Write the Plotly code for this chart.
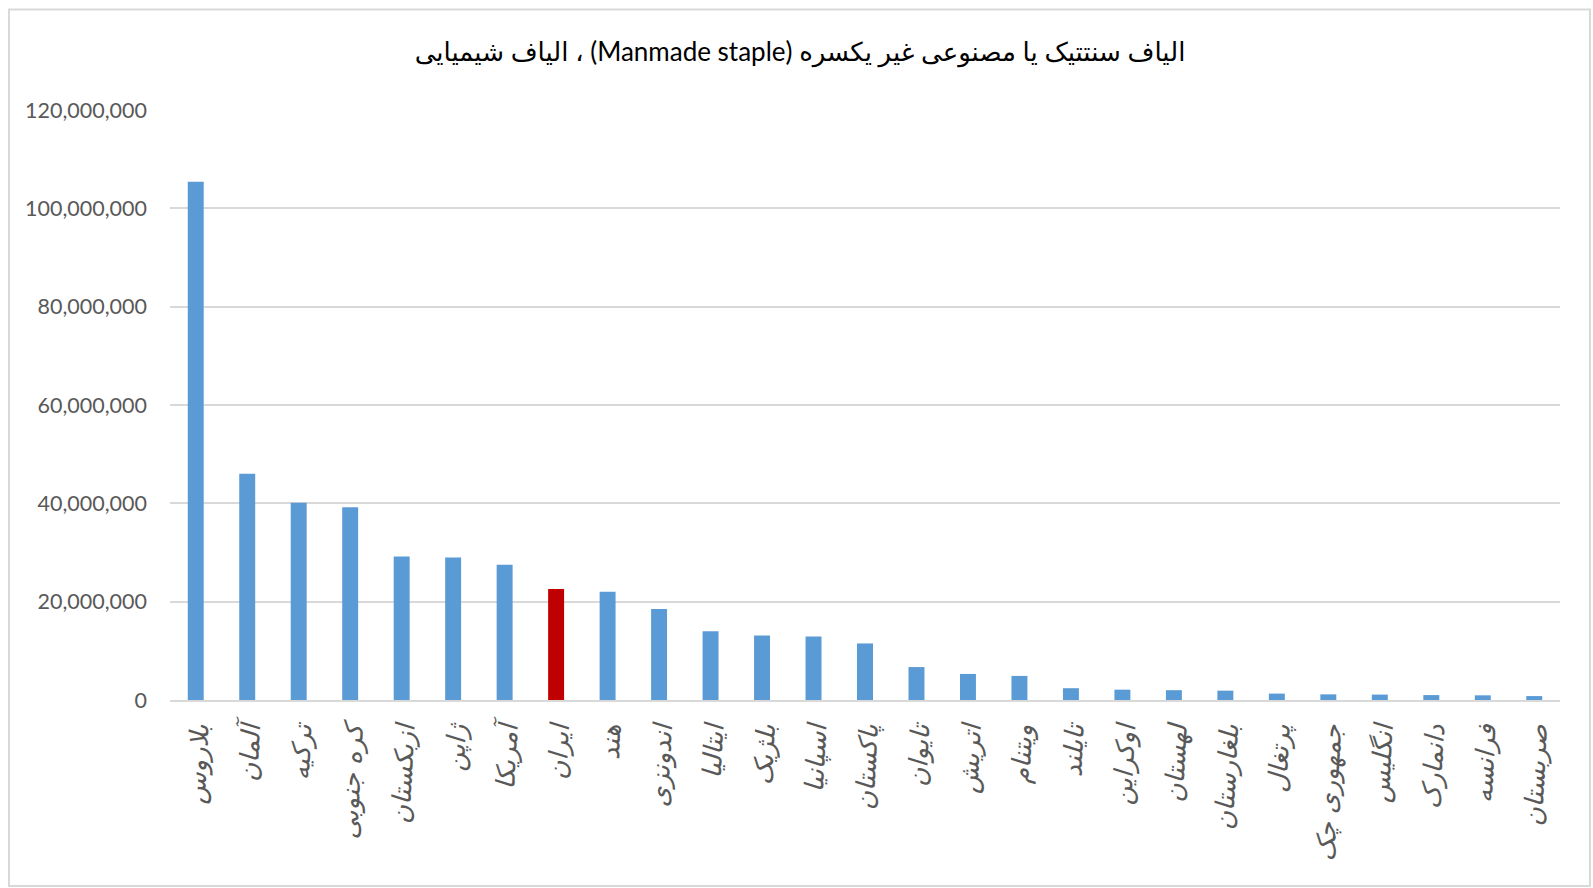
import plotly.graph_objects as go

categories = ["بلاروس", "آلمان", "ترکیه", "کره جنوبی", "ازبکستان", "ژاپن", "آمریکا", "ایران", "هند",
              "اندونزی", "ایتالیا", "بلژیک", "اسپانیا", "پاکستان", "تایوان", "اتریش", "ویتنام", "تایلند",
              "اوکراین", "لهستان", "بلغارستان", "پرتغال", "جمهوری چک", "انگلیس", "دانمارک", "فرانسه", "صربستان"]
values = [105400000, 46000000, 40100000, 39200000, 29200000, 29000000, 27500000, 22600000, 22000000,
          18500000, 14000000, 13100000, 12900000, 11500000, 6700000, 5300000, 4900000, 2400000,
          2100000, 2000000, 1900000, 1300000, 1150000, 1100000, 1000000, 950000, 800000]
highlight = "ایران"
y_ticks = [0, 20000000, 40000000, 60000000, 80000000, 100000000, 120000000]
title_text = "الیاف سنتتیک یا مصنوعی غیر یکسره (Manmade staple) ، الیاف شیمیایی"

colors = ["#c00000" if c == highlight else "#5b9bd5" for c in categories]

fig = go.Figure(go.Bar(x=categories, y=values, marker=dict(color=colors, line=dict(width=0))))

W, H = 1593, 888
L, R, T, B = 170, 33, 110, 188
pw, ph = W - L - R, H - T - B

def px(x):
    return (x - L) / pw

def py(y):
    return (H - B - y) / ph

fig.update_layout(
    width=W, height=H,
    margin=dict(l=L, r=R, t=T, b=B),
    paper_bgcolor="white", plot_bgcolor="white",
    bargap=0.69,
    showlegend=False,
    title=dict(text="\u202b" + title_text + "\u202c", x=(800) / W, xanchor="center",
               y=1 - 52 / H, yanchor="middle",
               font=dict(family="Lato, DejaVu Sans", size=26, color="#000000")),
    font=dict(family="Lato, DejaVu Sans", color="#595959"),
    xaxis=dict(
        tickangle=-87,
        tickfont=dict(family="DejaVu Sans", size=26, color="#595959", style="italic"),
        showline=True, linecolor="#d9d9d9", linewidth=2,
        ticks="", showgrid=False, fixedrange=True, ticklabelstandoff=4,
    ),
    yaxis=dict(
        range=[0, 120000000],
        tickvals=y_ticks,
        ticktext=[f"{v:,}" for v in y_ticks],
        tickfont=dict(family="Lato", size=21.5, color="#595959"),
        showgrid=True, gridcolor="#d9d9d9", gridwidth=1.5,
        zeroline=False, showline=False, ticks="", ticklabelstandoff=22,
    ),
    shapes=[dict(type="rect", xref="paper", yref="paper",
                 x0=px(9), x1=px(1590), y0=py(886), y1=py(9.5),
                 line=dict(color="#d9d9d9", width=2), fillcolor="rgba(0,0,0,0)", layer="below")],
)

fig.write_html("out.html", config={"displayModeBar": False},
               post_script="document.body.style.margin='0';document.body.style.overflow='hidden';")
